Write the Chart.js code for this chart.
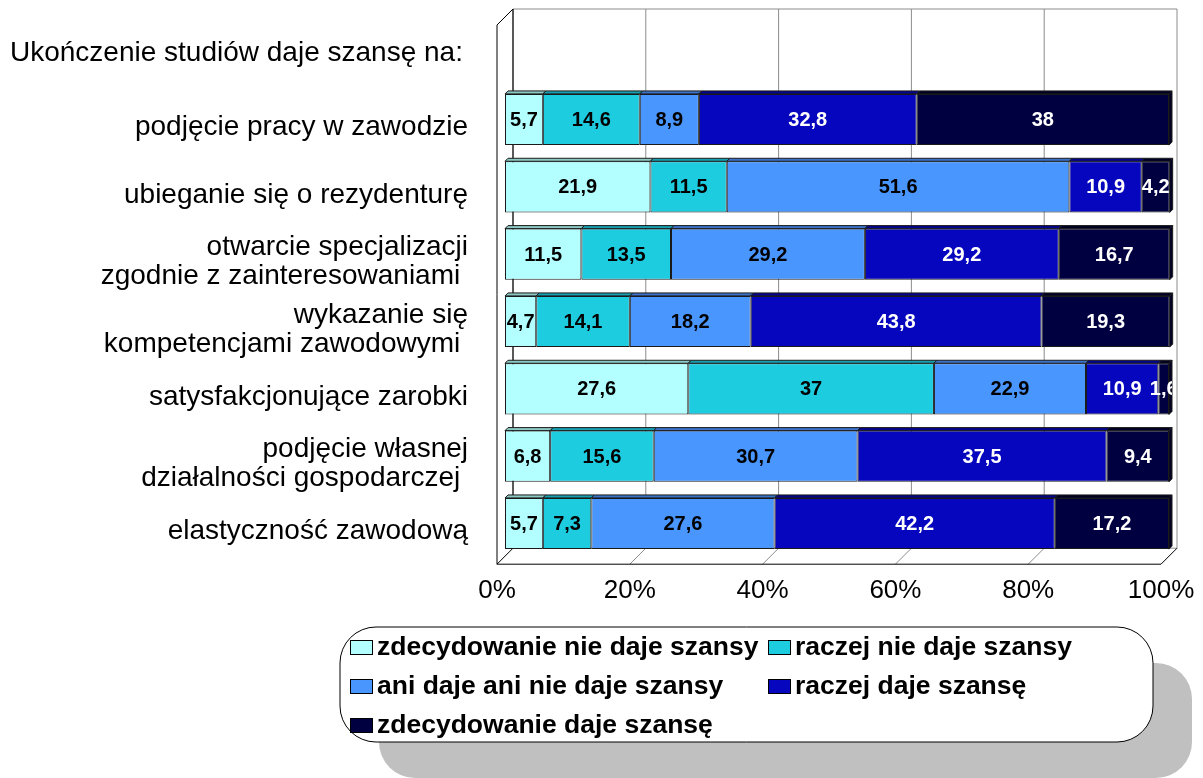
<!DOCTYPE html>
<html>
<head>
<meta charset="utf-8">
<script src="https://cdn.jsdelivr.net/npm/chart.js@4"></script>
<style>
	html, body { margin: 0; padding: 0; background: #fff; }
	#chart { display: block; }
</style>
</head>
<body>
<canvas id="chart" width="1203" height="778"></canvas>
<script>
// categories (top to bottom) and the five answer series, in %
const header = "Ukończenie studiów daje szansę na:";
const categories = [
	"podjęcie pracy w zawodzie",
	"ubieganie się o rezydenturę",
	["otwarcie specjalizacji", "zgodnie z zainteresowaniami "],
	["wykazanie się", "kompetencjami zawodowymi "],
	"satysfakcjonujące zarobki",
	["podjęcie własnej", "działalności gospodarczej "],
	"elastyczność zawodową"
];
const seriesNames = [
	"zdecydowanie nie daje szansy",
	"raczej nie daje szansy",
	"ani daje ani nie daje szansy",
	"raczej daje szansę",
	"zdecydowanie daje szansę"
];
const zdecydowanieNie = [5.7, 21.9, 11.5, 4.7, 27.6, 6.8, 5.7];
const raczejNie = [14.6, 11.5, 13.5, 14.1, 37, 15.6, 7.3];
const aniAni = [8.9, 51.6, 29.2, 18.2, 22.9, 30.7, 27.6];
const raczejTak = [32.8, 10.9, 29.2, 43.8, 10.9, 37.5, 42.2];
const zdecydowanieTak = [38, 4.2, 16.7, 19.3, 1.6, 9.4, 17.2];
const tickLabels = ["0%", "20%", "40%", "60%", "80%", "100%"];

const FONT = "'Liberation Sans', Arial, sans-serif";
const colors = ["#B3FFFF", "#1ECCE0", "#4A96FF", "#0606BE", "#000040"];
const topColors = ["#8CC8C4", "#159FB0", "#3A72C8", "#04048C", "#000024"];
const labelColors = ["#000", "#000", "#000", "#fff", "#fff"];
const DEPTH = 8;   // half depth of the 3d box
const BAR_D = 3;   // depth of the bar top face

function rrect(ctx, x, y, w, h, r) {
	ctx.beginPath();
	ctx.moveTo(x + r, y);
	ctx.arcTo(x + w, y, x + w, y + h, r);
	ctx.arcTo(x + w, y + h, x, y + h, r);
	ctx.arcTo(x, y + h, x, y, r);
	ctx.arcTo(x, y, x + w, y, r);
	ctx.closePath();
}

function line(ctx, x1, y1, x2, y2) {
	ctx.beginPath();
	ctx.moveTo(x1, y1);
	ctx.lineTo(x2, y2);
	ctx.stroke();
}

// back wall, left wall and floor of the 3d plot box
const walls = {
	id: "walls",
	beforeDatasetsDraw(chart) {
		const ctx = chart.ctx, a = chart.chartArea, xs = chart.scales.x;
		const d = DEPTH, top = 17, bot = a.bottom - 1;
		const x0 = a.left, x1 = a.right;
		ctx.save();
		ctx.lineWidth = 1;
		ctx.strokeStyle = "#8c8c8c";
		line(ctx, x0 + d, top - d, x1 + d, top - d);
		line(ctx, x1 + d, top - d, x1 + d, bot - d);
		line(ctx, x0 + d, bot - d, x1 + d, bot - d);
		[20, 40, 60, 80].forEach(v => {
			const px = xs.getPixelForValue(v);
			line(ctx, px + d, top - d, px + d, bot - d);
			line(ctx, px + d, bot - d, px - d, bot + d);
		});
		ctx.strokeStyle = "#222";
		ctx.lineWidth = 1.5;
		line(ctx, x0 + d, top - d, x0 + d, bot - d);
		ctx.lineWidth = 1;
		ctx.strokeStyle = "#000";
		line(ctx, x0 - d, top + d, x0 - d, bot + d);
		line(ctx, x0 - d, top + d, x0 + d, top - d);
		line(ctx, x0 - d, bot + d, x1 - d, bot + d);
		line(ctx, x0 + d, bot - d, x0 - d, bot + d);
		line(ctx, x1 + d, bot - d, x1 - d, bot + d);
		ctx.restore();

		// header above the category labels
		ctx.save();
		ctx.font = "28px " + FONT;
		ctx.fillStyle = "#000";
		ctx.textAlign = "left";
		ctx.textBaseline = "alphabetic";
		ctx.fillText(header, 10, 61);
		ctx.restore();
	}
};

// top/right faces of the bars and the value labels
const bars3d = {
	id: "bars3d",
	afterDatasetsDraw(chart) {
		const ctx = chart.ctx, a = chart.chartArea, e = BAR_D;
		const last = chart.data.datasets.length - 1;
		ctx.save();
		ctx.lineWidth = 1;
		ctx.strokeStyle = "#1a1a1a";
		chart.data.datasets.forEach((ds, i) => {
			chart.getDatasetMeta(i).data.forEach(el => {
				const p = el.getProps(["x", "base", "y", "height"], true);
				const l = Math.min(p.x, p.base), r = Math.max(p.x, p.base);
				const t = p.y - p.height / 2, b = p.y + p.height / 2;
				ctx.fillStyle = topColors[i];
				ctx.beginPath();
				ctx.moveTo(l, t);
				ctx.lineTo(l + e, t - e);
				ctx.lineTo(r + e, t - e);
				ctx.lineTo(r, t);
				ctx.closePath();
				ctx.fill();
				ctx.stroke();
				if (i === last) {
					ctx.beginPath();
					ctx.moveTo(r, t);
					ctx.lineTo(r + e, t - e);
					ctx.lineTo(r + e, b - e);
					ctx.lineTo(r, b);
					ctx.closePath();
					ctx.fill();
					ctx.stroke();
				}
			});
		});

		ctx.beginPath();
		ctx.rect(0, 0, a.right + 3, chart.height);
		ctx.clip();
		ctx.font = "bold 20px " + FONT;
		ctx.textAlign = "center";
		ctx.textBaseline = "middle";
		chart.data.datasets.forEach((ds, i) => {
			ctx.fillStyle = labelColors[i];
			chart.getDatasetMeta(i).data.forEach((el, j) => {
				const p = el.getProps(["x", "base", "y"], true);
				const txt = String(ds.data[j]).replace(".", ",");
				ctx.fillText(txt, (p.x + p.base) / 2, p.y + 1);
			});
		});
		ctx.restore();
	}
};

// legend in a rounded box with a grey shadow, two columns
const boxLegend = {
	id: "boxLegend",
	afterDraw(chart) {
		const ctx = chart.ctx;
		const bx = 340, by = 627, bw = 813, bh = 115, rad = 36;
		ctx.save();
		ctx.fillStyle = "#c0c0c0";
		rrect(ctx, bx + 39, by + 36, bw, bh, rad);
		ctx.fill();
		ctx.fillStyle = "#fff";
		ctx.strokeStyle = "#000";
		ctx.lineWidth = 1;
		rrect(ctx, bx, by, bw, bh, rad);
		ctx.fill();
		ctx.stroke();

		const colX = [377, 795], rowY = [647, 686, 725];
		ctx.font = "bold 26.5px " + FONT;
		ctx.textBaseline = "middle";
		ctx.textAlign = "left";
		chart.data.datasets.forEach((ds, i) => {
			const tx = colX[i % 2], ty = rowY[Math.floor(i / 2)];
			ctx.fillStyle = ds.backgroundColor;
			ctx.fillRect(tx - 27, ty - 7, 22, 14);
			ctx.strokeRect(tx - 27 + 0.5, ty - 7 + 0.5, 22, 14);
			ctx.fillStyle = "#000";
			ctx.fillText(ds.label, tx, ty + 1);
		});
		ctx.restore();
	}
};

const allSeries = [zdecydowanieNie, raczejNie, aniAni, raczejTak, zdecydowanieTak];

new Chart(document.getElementById("chart"), {
	type: "bar",
	data: {
		labels: categories,
		datasets: allSeries.map((vals, i) => ({
			label: seriesNames[i],
			data: vals,
			backgroundColor: colors[i],
			borderColor: "#1a1a1a",
			borderWidth: 1,
			borderSkipped: false,
			barPercentage: 0.76,
			categoryPercentage: 1
		}))
	},
	options: {
		indexAxis: "y",
		responsive: false,
		animation: false,
		layout: { padding: { top: 85.85, right: 34, bottom: 160.8, left: 0 } },
		plugins: {
			legend: { display: false },
			tooltip: { enabled: false }
		},
		scales: {
			x: {
				stacked: true,
				min: 0,
				max: 100,
				grid: { display: false, drawTicks: false },
				border: { display: false },
				ticks: {
					stepSize: 20,
					callback: v => tickLabels[v / 20],
					labelOffset: -DEPTH,
					padding: 18,
					color: "#000",
					font: { family: FONT, size: 26 }
				},
				afterFit: s => {
					s.height = 60;
					s.paddingLeft = 0;
					s.paddingRight = 0;
				}
			},
			y: {
				stacked: true,
				grid: { display: false, drawTicks: false },
				border: { display: false },
				ticks: {
					color: "#000",
					padding: 37,
					labelOffset: DEPTH,
					font: { family: FONT, size: 28, lineHeight: 1.04 }
				},
				afterFit: s => { s.width = 505; }
			}
		}
	},
	plugins: [walls, bars3d, boxLegend]
});
</script>
</body>
</html>
